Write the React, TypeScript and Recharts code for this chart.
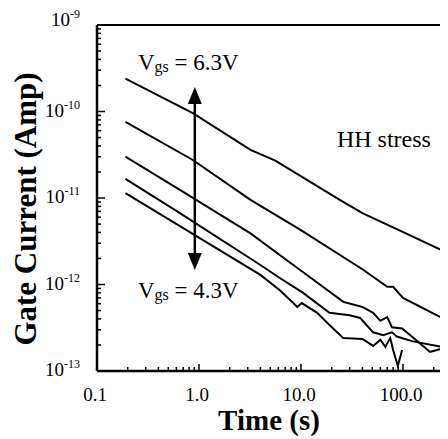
import { ComposedChart, Line, XAxis, YAxis, ReferenceLine, ReferenceDot } from 'recharts'

// axis ticks
const xMajor = [0.1, 1, 10, 100, 1000]
const xTickLabels = ['0.1', '1.0', '10.0', '100.0', '']
const yMajor = [1e-13, 1e-12, 1e-11, 1e-10, 1e-9]
const yExponents = ['-13', '-12', '-11', '-10', '-9']

// gate current decay curves, top (Vgs = 6.3V) to bottom (Vgs = 4.3V)
const time1 = [0.19, 0.87, 3.2, 5.6, 24, 40, 89, 276, 300]
const amp1 = [2.4e-10, 9.6e-11, 3.6e-11, 2.7e-11, 9.5e-12, 6.7e-12, 4.3e-12, 2.3e-12, 2.2e-12]

const time2 = [0.19, 0.87, 3.2, 9.8, 40, 70, 80, 100, 276, 300]
const amp2 = [7.6e-11, 2.75e-11, 9.5e-12, 4.3e-12, 1.5e-12, 9.4e-13, 9.4e-13, 7.0e-13, 3.8e-13, 3.6e-13]

const time3 = [0.19, 0.65, 3.2, 9.8, 26, 40, 51, 60, 70, 78, 98, 122, 184, 215, 276, 300]
const amp3 = [3.0e-11, 1.24e-11, 3.9e-12, 1.47e-12, 6.3e-13, 5.5e-13, 4.7e-13, 3.8e-13, 4.2e-13, 3.2e-13, 3.1e-13, 2.5e-13, 1.66e-13, 1.75e-13, 1.9e-13, 1.95e-13]

const time4 = [0.19, 0.65, 4.0, 6.2, 10.5, 19, 30, 38, 51, 64, 78, 87, 125, 276, 300]
const amp4 = [1.66e-11, 6.7e-12, 1.68e-12, 1.19e-12, 8.0e-13, 4.7e-13, 4.4e-13, 4.1e-13, 2.8e-13, 2.6e-13, 2.8e-13, 2.5e-13, 2.2e-13, 1.84e-13, 1.8e-13]

const time5 = [0.19, 4.0, 6.2, 8.4, 9.2, 10.2, 14.4, 19, 26, 40, 51, 60, 67, 75, 80, 89, 98]
const amp5 = [1.14e-11, 1.29e-12, 8.6e-13, 6.1e-13, 5.5e-13, 6.1e-13, 4.7e-13, 3.4e-13, 2.4e-13, 2.35e-13, 1.95e-13, 2.3e-13, 1.9e-13, 2.4e-13, 1.75e-13, 1.14e-13, 1.75e-13]

const highVgs = '6.3V'
const lowVgs = '4.3V'

const toPoints = (ts: number[], is: number[]) => ts.map((t, k) => ({ t, i: is[k] }))
const curves = [
  toPoints(time1, amp1),
  toPoints(time2, amp2),
  toPoints(time3, amp3),
  toPoints(time4, amp4),
  toPoints(time5, amp5),
]

const minorsOf = (majors: number[]) =>
  majors.slice(0, -1).flatMap(m => [2, 3, 4, 5, 6, 7, 8, 9].map(k => m * k))
const xTicks = [...xMajor, ...minorsOf(xMajor)].sort((a, b) => a - b)
const yTicks = [...yMajor, ...minorsOf(yMajor)].sort((a, b) => a - b)

const font = 'Liberation Serif'

function XTick({ x, y, payload }: any) {
  const k = xMajor.indexOf(payload.value)
  const major = k >= 0
  return (
    <g>
      <line x1={x} x2={x} y1={y} y2={y - (major ? 7 : 4)} stroke="#000" strokeWidth={1.5} />
      {major && (
        <text x={x - 2} y={y + 30} textAnchor="middle" fontSize={19} fontFamily={font} fill="#000">
          {xTickLabels[k]}
        </text>
      )}
    </g>
  )
}

function YTick({ x, y, payload }: any) {
  const k = yMajor.indexOf(payload.value)
  const major = k >= 0
  return (
    <g>
      <line x1={x} x2={x + (major ? 8 : 4)} y1={y} y2={y} stroke="#000" strokeWidth={1.5} />
      {major && (
        <text x={x - 17} y={y + (k === yMajor.length - 1 ? 1 : 5)} textAnchor="end" fontSize={19} fontFamily={font} fill="#000">
          <tspan>10</tspan>
          <tspan dy={-8} fontSize={12}>{yExponents[k]}</tspan>
        </text>
      )}
    </g>
  )
}

function Arrow({ x1, y1, x2, y2 }: any) {
  const h = 17
  const w = 7
  return (
    <g>
      <line x1={x1} x2={x2} y1={y1 + h} y2={y2 - h} stroke="#000" strokeWidth={2.5} />
      <polygon points={`${x1},${y1} ${x1 - w},${y1 + h} ${x1 + w},${y1 + h}`} fill="#000" />
      <polygon points={`${x2},${y2} ${x2 - w},${y2 - h} ${x2 + w},${y2 - h}`} fill="#000" />
    </g>
  )
}

const vgsLabel = (v: string) => (props: any) => (
  <text x={props.cx} y={props.cy} fontSize={23} fontFamily={font} fill="#000">
    V<tspan fontSize={16} dy={2}>gs</tspan>
    <tspan dy={-2}>{' = ' + v}</tspan>
  </text>
)

const stressLabel = (props: any) => (
  <text x={props.cx} y={props.cy} fontSize={24} fontFamily={font} fill="#000">HH stress</text>
)

export default function App() {
  return (
    <div style={{ width: 440, height: 431, overflow: 'hidden', fontFamily: font }}>
      <ComposedChart width={510} height={431} margin={{ top: 17, right: 13, bottom: 8, left: 0 }}>
        <XAxis
          dataKey="t"
          type="number"
          scale="log"
          domain={[0.1, 1000]}
          ticks={xTicks}
          interval={0}
          allowDataOverflow
          tick={<XTick />}
          tickLine={false}
          tickSize={0}
          tickMargin={0}
          height={60}
          axisLine={{ stroke: '#000', strokeWidth: 2.5 }}
          label={({ viewBox }: any) => (
            <text x={viewBox.x + 172} y={viewBox.y + 59} textAnchor="middle" fontSize={29} fontWeight="bold" fontFamily={font} fill="#000">
              Time (s)
            </text>
          )}
        />
        <YAxis
          type="number"
          scale="log"
          domain={[1e-13, 1e-9]}
          ticks={yTicks}
          interval={0}
          allowDataOverflow
          tick={<YTick />}
          tickLine={false}
          tickSize={0}
          tickMargin={0}
          width={89}
          axisLine={{ stroke: '#000', strokeWidth: 2.5 }}
          label={({ viewBox }: any) => {
            const cx = viewBox.x + 28
            const cy = viewBox.y + viewBox.height / 2 + 11
            return (
              <text x={cx} y={cy} transform={`rotate(-90 ${cx} ${cy})`} textAnchor="middle" fontSize={31} fontWeight="bold" fontFamily={font} fill="#000">
                Gate Current (Amp)
              </text>
            )
          }}
        />
        <ReferenceLine y={1e-9} stroke="#000" strokeWidth={2} />
        <ReferenceLine x={1000} stroke="#000" strokeWidth={2} />
        {curves.map((d, n) => (
          <Line
            key={n}
            data={d}
            dataKey="i"
            type="linear"
            stroke="#000"
            strokeWidth={2}
            dot={false}
            isAnimationActive={false}
          />
        ))}
        <ReferenceLine
          segment={[{ x: 0.91, y: 1.92e-10 }, { x: 0.91, y: 1.47e-12 }]}
          shape={<Arrow />}
        />
        <ReferenceDot x={0.252} y={3.0e-10} r={0} shape={vgsLabel(highVgs)} />
        <ReferenceDot x={0.252} y={7.0e-13} r={0} shape={vgsLabel(lowVgs)} />
        <ReferenceDot x={22.5} y={3.9e-11} r={0} shape={stressLabel} />
      </ComposedChart>
    </div>
  )
}
